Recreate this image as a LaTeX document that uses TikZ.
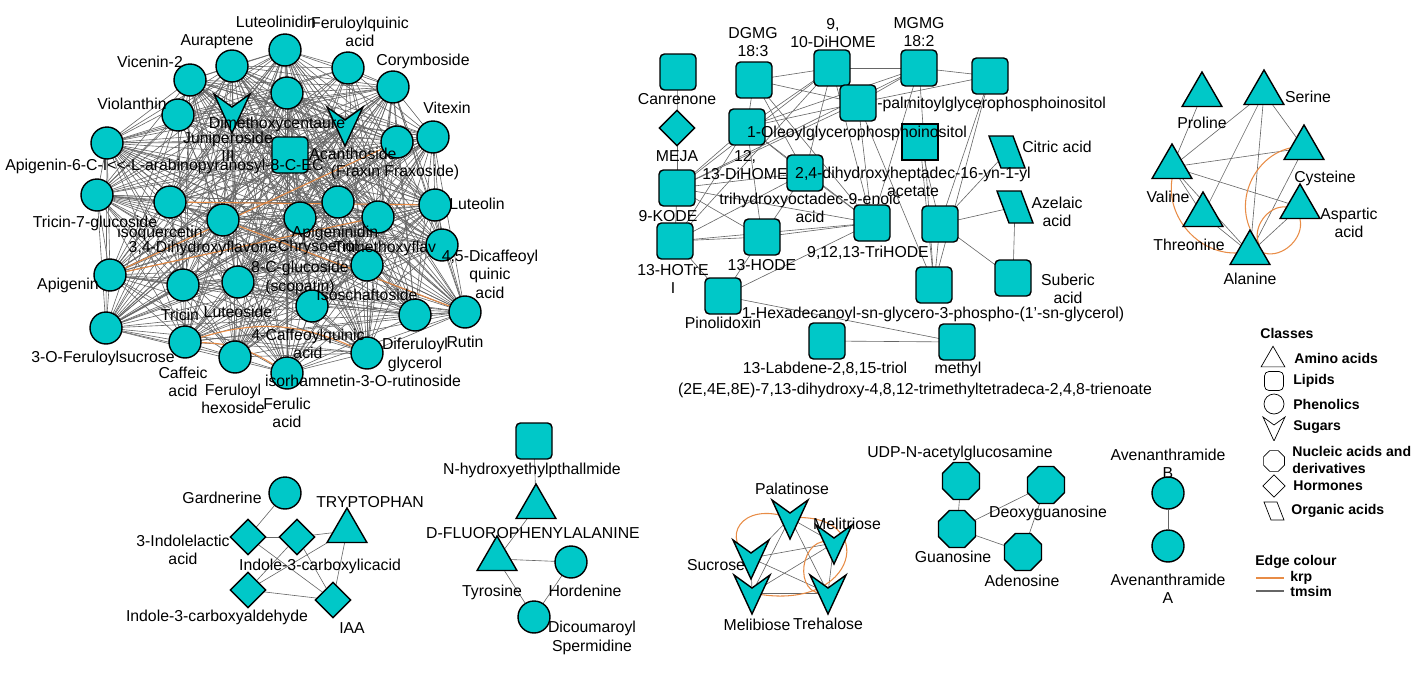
\documentclass[tikz,border=0pt]{standalone}
\usepackage{fontspec}
\setmainfont{Liberation Sans}
\usetikzlibrary{shapes.geometric,backgrounds}
\definecolor{tcol}{RGB}{0,200,200}
\definecolor{krp}{RGB}{232,140,70}
\tikzset{
  lbl/.style={font=\fontsize{9}{10.5}\selectfont,inner sep=0pt,align=center},
  phen/.style={circle,draw,thick,fill=tcol,minimum size=0.64cm,inner sep=0pt},
  lip/.style={rectangle,rounded corners=2.5pt,draw,thick,fill=tcol,minimum size=0.72cm,inner sep=0pt},
  amino/.style={regular polygon,regular polygon sides=3,draw,thick,fill=tcol,minimum size=0.92cm,inner sep=0pt},
  horm/.style={diamond,draw,thick,fill=tcol,minimum size=0.72cm,inner sep=0pt},
  nucl/.style={regular polygon,regular polygon sides=8,draw,thick,fill=tcol,minimum size=0.8cm,inner sep=0pt},
  orga/.style={rectangle,minimum width=0.76cm,minimum height=0.68cm,inner sep=0pt,path picture={
    \draw[thick,fill=tcol,shift={(path picture bounding box.center)}] (-18,-16) -- (6,-16) -- (18,16) -- (-6,16) -- cycle;}},
  sugar/.style={rectangle,minimum size=0.9cm,inner sep=0pt,path picture={
    \draw[thick,fill=tcol,shift={(path picture bounding box.center)}] (-18,-18) -- (0,-5) -- (18,-18) -- (0,21) -- cycle;}},
  tm/.style={gray!80!black,line width=0.35pt},
  kr/.style={krp,line width=0.6pt},
}
\begin{document}
\begin{tikzpicture}[x=0.02cm,y=-0.02cm]
\useasboundingbox (0,0) rectangle (1424,673);
% phenolics cluster
\node[phen] (ph1) at (232,66) {};
\node[phen] (ph2) at (285,50) {};
\node[phen] (ph3) at (348,68) {};
\node[phen] (ph4) at (393,87) {};
\node[phen] (ph5) at (190,80) {};
\node[phen] (ph6) at (178,115) {};
\node[phen] (ph7) at (287,93) {};
\node[phen] (ph8) at (433,137) {};
\node[phen] (ph9) at (397,142) {};
\node[phen] (ph10) at (107,143) {};
\node[phen] (ph11) at (97,195) {};
\node[phen] (ph12) at (170,202) {};
\node[phen] (ph13) at (223,220) {};
\node[phen] (ph14) at (300,218) {};
\node[phen] (ph15) at (338,202) {};
\node[phen] (ph16) at (378,217) {};
\node[phen] (ph17) at (435,205) {};
\node[phen] (ph18) at (442,245) {};
\node[phen] (ph19) at (367,265) {};
\node[phen] (ph20) at (110,275) {};
\node[phen] (ph21) at (183,285) {};
\node[phen] (ph22) at (238,282) {};
\node[phen] (ph23) at (312,306) {};
\node[phen] (ph24) at (415,315) {};
\node[phen] (ph25) at (465,312) {};
\node[phen] (ph26) at (106,328) {};
\node[phen] (ph27) at (185,342) {};
\node[phen] (ph28) at (235,357) {};
\node[phen] (ph29) at (287,373) {};
\node[phen] (ph30) at (367,353) {};
\node[sugar] (ph31) at (232,112) {};
\node[sugar] (ph32) at (345,125) {};
\node[lip] (ph33) at (290,155) {};
\begin{pgfonlayer}{background}
\foreach \i in {1,...,32}{
  \pgfmathtruncatemacro{\k}{\i+1}
  \foreach \j in {\k,...,33}{
    \pgfmathtruncatemacro{\r}{mod(\i*7+\j*3,6)}
    \ifnum\r>0 \draw[tm] (ph\i.center) -- (ph\j.center);\fi
  }}
\draw[kr] (ph20) -- (ph16);
\draw[kr] (ph20) -- (ph9);
\draw[kr] (ph12) -- (ph17);
\draw[kr] (ph13) -- (ph25);
\draw[kr] (ph27) to[bend left=20] (ph30);
\draw[kr] (ph27) to[bend left=15] (ph29);
\end{pgfonlayer}
\node[lbl] (tph1) at (217,42) {Auraptene};
\node[lbl] (tph2) at (276,22) {Luteolinidin};
\node[lbl] (tph3) at (360,32) {Feruloylquinic\\acid};
\node[lbl] (tph4) at (423,61) {Corymboside};
\node[lbl] (tph5) at (150,62) {Vicenin-2};
\node[lbl] (tph6) at (132,104) {Violanthin};
\node[lbl] (tph8) at (447,108) {Vitexin};
\node[lbl] (tph31a) at (277,124) {Dimethoxycentaure};
\node[lbl] (tph31b) at (228,147) {Juniperoside\\III};
\node[lbl] (tph32) at (353,154) {Acanthoside};
\node[lbl,anchor=west] (tph10) at (5,166) {Apigenin-6-C-I{<}{<}-L-arabinopyranosyl-8-C-EC};
\node[lbl] (tph9) at (395,172) {(Fraxin Fraxoside)};
\node[lbl] (tph11) at (95,223) {Tricin-7-glucoside};
\node[lbl] (tph12) at (160,233) {isoquercetin};
\node[lbl] (tph13) at (203,248) {3,4-Dihydroxyflavone};
\node[lbl] (tph14) at (318,247) {Chrysoeriol};
\node[lbl] (tph15) at (335,233) {Apigeninidin};
\node[lbl] (tph16) at (385,248) {Trimethoxyflav};
\node[lbl] (tph17) at (477,204) {Luteolin};
\node[lbl] (tph18) at (490,274) {4,5-Dicaffeoyl\\quinic\\acid};
\node[lbl] (tph19) at (300,278) {8-C-glucoside\\(scopatin)};
\node[lbl] (tph20) at (68,285) {Apigenin};
\node[lbl] (tph21) at (180,315) {Tricin};
\node[lbl] (tph22) at (238,312) {Luteoside};
\node[lbl] (tph23) at (367,295) {Isoschaftoside};
\node[lbl] (tph24) at (415,355) {Diferuloyl\\glycerol};
\node[lbl] (tph25) at (465,342) {Rutin};
\node[lbl] (tph26) at (103,358) {3-O-Feruloylsucrose};
\node[lbl] (tph27) at (183,382) {Caffeic\\acid};
\node[lbl] (tph28) at (233,399) {Feruloyl\\hexoside};
\node[lbl] (tph29) at (287,413) {Ferulic\\acid};
\node[lbl] (tph30) at (308,344) {4-Caffeoylquinic\\acid};
\node[lbl] (tph30b) at (363,381) {isorhamnetin-3-O-rutinoside};
% lipids cluster
\node[lip] (can) at (678,72) {};
\node[horm] (meja) at (677,128) {};
\node[lip] (dgmg) at (754,80) {};
\node[lip] (dihome) at (832,68) {};
\node[lip] (mgmg) at (919,68) {};
\node[lip] (lx1) at (990,76) {};
\node[lip] (palm) at (858,103) {};
\node[lip] (oleo) at (747,127) {};
\node[lip,rounded corners=0pt] (lsq) at (920,142) {};
\node[orga] (citric) at (1007,152) {};
\node[lip] (dihy) at (805,173) {};
\node[lip] (kode) at (677,188) {};
\node[orga] (azel) at (1015,207) {};
\node[lip] (trih) at (872,223) {};
\node[lip] (lx2) at (940,224) {};
\node[lip] (hotre) at (675,241) {};
\node[lip] (hode) at (762,237) {};
\node[lip] (lx3) at (934,285) {};
\node[lip] (suber) at (1013,278) {};
\node[lip] (pino) at (723,296) {};
\node[lip] (labd) at (827,341) {};
\node[lip] (methyl) at (957,342) {};
\begin{pgfonlayer}{background}
\foreach \a/\b in {can/meja,meja/kode,kode/hotre,dgmg/dihome,dihome/mgmg,dihome/palm,mgmg/palm,
  palm/lx1,mgmg/lx1,dgmg/palm,dgmg/oleo,dgmg/dihy,dgmg/trih,dihome/oleo,dihome/dihy,dihome/kode,
  dihome/hotre,dihome/trih,mgmg/oleo,mgmg/kode,mgmg/trih,mgmg/lx3,palm/oleo,palm/kode,palm/trih,
  palm/lx3,oleo/kode,oleo/hotre,oleo/hode,oleo/dihy,oleo/trih,dihy/hotre,dihy/hode,dihy/kode,
  dihy/trih,kode/hode,kode/trih,hotre/hode,hotre/trih,hode/trih,hode/pino,hotre/pino,trih/pino,
  lx1/lx2,lx1/lx3,lsq/lx2,lsq/lx3,lx2/lx3,lx2/azel,lx2/suber,azel/suber,pino/methyl,labd/methyl,
  citric/lx2}
  \draw[tm] (\a.center) -- (\b.center);
\end{pgfonlayer}
\node[lbl] (tcan) at (677,99) {Canrenone};
\node[lbl] (tmeja) at (677,156) {MEJA};
\node[lbl] (tdgmg) at (753,42) {DGMG\\18:3};
\node[lbl] (tdihome) at (833,33) {9,\\10-DiHOME};
\node[lbl] (tmgmg) at (919,32) {MGMG\\18:2};
\node[lbl,anchor=west] (tpalm) at (877,104) {-palmitoylglycerophosphoinositol};
\node[lbl] (toleo) at (857,133) {1-Oleoylglycerophosphoinositol};
\node[lbl] (tdihome2) at (745,165) {12,\\13-DiHOME};
\node[lbl] (tdihy) at (913,182) {2,4-dihydroxyheptadec-16-yn-1-yl\\acetate};
\node[lbl] (tcit) at (1057,147) {Citric acid};
\node[lbl] (tkode) at (668,216) {9-KODE};
\node[lbl] (ttrioic) at (810,208) {trihydroxyoctadec-9-enoic\\acid};
\node[lbl] (tazel) at (1057,212) {Azelaic\\acid};
\node[lbl] (ttrih) at (868,253) {9,12,13-TriHODE};
\node[lbl] (thotre) at (673,279) {13-HOTrE\\I};
\node[lbl] (thode) at (762,265) {13-HODE};
\node[lbl] (tsuber) at (1068,289) {Suberic\\acid};
\node[lbl] (tpino) at (723,323) {Pinolidoxin};
\node[lbl] (thexa) at (933,314) {1-Hexadecanoyl-sn-glycero-3-phospho-(1'-sn-glycerol)};
\node[lbl] (tlabd) at (825,369) {13-Labdene-2,8,15-triol};
\node[lbl] (tmethyl) at (958,369) {methyl};
\node[lbl] (ttetra) at (915,390) {(2E,4E,8E)-7,13-dihydroxy-4,8,12-trimethyltetradeca-2,4,8-trienoate};
% amino acids
\node[amino] (pro) at (1202,95) {};
\node[amino] (ser) at (1264,93) {};
\node[amino] (cys) at (1304,148) {};
\node[amino] (val) at (1172,167) {};
\node[amino] (asp) at (1300,207) {};
\node[amino] (thr) at (1203,215) {};
\node[amino] (ala) at (1250,253) {};
\begin{pgfonlayer}{background}
\foreach \a/\b in {pro/val,ser/val,ser/cys,ser/thr,ser/ala,val/cys,val/asp,val/thr,val/ala,thr/ala,cys/ala,asp/ala}
  \draw[tm] (\a.center) -- (\b.center);
\draw[kr] (val.south) to[bend right=50] (ala.west);
\draw[kr] (cys.west) to[bend right=50] (ala.north);
\draw[kr] (asp.west) to[bend right=60] (ala.north east);
\draw[kr] (asp.south) to[bend left=60] (ala.east);
\end{pgfonlayer}
\node[lbl] (tpro) at (1202,123) {Proline};
\node[lbl] (tser) at (1308,97) {Serine};
\node[lbl] (tcys) at (1325,178) {Cysteine};
\node[lbl] (tval) at (1168,197) {Valine};
\node[lbl] (tasp) at (1349,223) {Aspartic\\acid};
\node[lbl] (tthr) at (1189,245) {Threonine};
\node[lbl] (tala) at (1250,279) {Alanine};
% indoles
\node[phen] (gard) at (285,493) {};
\node[amino] (tryp) at (347,531) {};
\node[horm] (ila) at (248,537) {};
\node[horm] (ica) at (297,537) {};
\node[horm] (icald) at (248,590) {};
\node[horm] (iaa) at (333,600) {};
\begin{pgfonlayer}{background}
\foreach \a/\b in {gard/ila,ila/ica,ica/tryp,ila/iaa,ica/iaa,ica/icald,tryp/icald,tryp/iaa,icald/iaa}
  \draw[tm] (\a.center) -- (\b.center);
\end{pgfonlayer}
\node[lbl] (tgard) at (222,498) {Gardnerine};
\node[lbl] (ttryp) at (370,502) {TRYPTOPHAN};
\node[lbl] (tila) at (183,550) {3-Indolelactic\\acid};
\node[lbl] (tica) at (320,566) {Indole-3-carboxylicacid};
\node[lbl] (ticald) at (217,617) {Indole-3-carboxyaldehyde};
\node[lbl] (tiaa) at (352,628) {IAA};
% phenylalanine group
\node[lip] (nhyd) at (534,441) {};
\node[amino] (dfpa) at (536,507) {};
\node[amino] (tyr) at (497,559) {};
\node[phen] (hord) at (571,562) {};
\node[phen] (dicou) at (534,617) {};
\begin{pgfonlayer}{background}
\foreach \a/\b in {nhyd/dfpa,dfpa/tyr,tyr/hord,tyr/dicou,hord/dicou}
  \draw[tm] (\a.center) -- (\b.center);
\end{pgfonlayer}
\node[lbl] (tnhyd) at (532,470) {N-hydroxyethylpthallmide};
\node[lbl] (tdfpa) at (533,533) {D-FLUOROPHENYLALANINE};
\node[lbl] (ttyr) at (492,592) {Tyrosine};
\node[lbl] (thord) at (585,591) {Hordenine};
\node[lbl] (tdicou) at (592,638) {Dicoumaroyl\\Spermidine};
% sugars
\node[sugar] (pala) at (790,518) {};
\node[sugar] (meli) at (834,543) {};
\node[sugar] (sucr) at (751,558) {};
\node[sugar] (melb) at (752,593) {};
\node[sugar] (treh) at (828,593) {};
\begin{pgfonlayer}{background}
\foreach \a/\b in {pala/sucr,pala/melb,pala/treh,pala/meli,meli/sucr,meli/melb,meli/treh,sucr/treh,sucr/melb,melb/treh}
  \draw[tm] (\a.center) -- (\b.center);
\draw[kr] (pala.center) .. controls (740,500) and (720,540) .. (sucr.center);
\draw[kr] (pala.center) .. controls (880,510) and (860,615) .. (melb.center);
\draw[kr] (meli.center) .. controls (800,530) and (790,600) .. (treh.center);
\end{pgfonlayer}
\node[lbl] (tpala) at (792,489) {Palatinose};
\node[lbl] (tmeli) at (847,524) {Melitriose};
\node[lbl] (tsucr) at (716,565) {Sucrose};
\node[lbl] (tmelb) at (757,625) {Melibiose};
\node[lbl] (ttreh) at (828,624) {Trehalose};
% nucleosides
\node[nucl] (udp) at (961,481) {};
\node[nucl] (deox) at (1046,485) {};
\node[nucl] (guan) at (957,529) {};
\node[nucl] (aden) at (1023,552) {};
\begin{pgfonlayer}{background}
\foreach \a/\b in {udp/guan,guan/deox,guan/aden,aden/deox}
  \draw[tm] (\a.center) -- (\b.center);
\end{pgfonlayer}
\node[lbl] (tudp) at (960,453) {UDP-N-acetylglucosamine};
\node[lbl] (tdeox) at (1048,513) {Deoxyguanosine};
\node[lbl] (tguan) at (953,557) {Guanosine};
\node[lbl] (taden) at (1022,581) {Adenosine};
% avenanthramides
\node[phen] (aveb) at (1168,493) {};
\node[phen] (avea) at (1168,546) {};
\draw[tm] (aveb) -- (avea);
\node[lbl] (taveb) at (1168,464) {Avenanthramide\\B};
\node[lbl] (tavea) at (1168,589) {Avenanthramide\\A};
% legend
\tikzset{leg/.style={lbl,font=\fontsize{8}{9.5}\selectfont\bfseries,anchor=west}}
\node[leg] (lclass) at (1260,333) {Classes};
\node[amino,fill=white,thin,minimum size=0.55cm] (lg1) at (1273,360) {};
\node[lip,fill=white,thin,minimum size=0.38cm] (lg2) at (1274,381) {};
\node[phen,fill=white,thin,minimum size=0.4cm] (lg3) at (1274,404) {};
\node[rectangle,minimum size=0.5cm,path picture={\draw[shift={(path picture bounding box.center)}] (-11,-11) -- (0,-3) -- (11,-11) -- (0,13) -- cycle;}] (lg4) at (1274,428) {};
\node[nucl,fill=white,thin,minimum size=0.45cm] (lg5) at (1274,461) {};
\node[horm,fill=white,thin,minimum size=0.45cm] (lg6) at (1274,486) {};
\node[rectangle,minimum size=0.45cm,path picture={\draw[shift={(path picture bounding box.center)}] (-10,-9) -- (3,-9) -- (10,9) -- (-3,9) -- cycle;}] (lg7) at (1274,511) {};
\node[leg] (tlg1) at (1294,358) {Amino acids};
\node[leg] (tlg2) at (1293,381) {Lipids};
\node[leg] (tlg3) at (1293,404) {Phenolics};
\node[leg] (tlg4) at (1293,427) {Sugars};
\node[leg,align=left] (tlg5) at (1292,460) {Nucleic acids and\\derivatives};
\node[leg] (tlg6) at (1293,486) {Hormones};
\node[leg] (tlg7) at (1291,511) {Organic acids};
\node[leg] (ledge) at (1255,562) {Edge colour};
\coordinate (k1) at (1256,578); \coordinate (k2) at (1284,578);
\coordinate (g1) at (1256,591); \coordinate (g2) at (1284,591);
\draw[kr] (k1) -- (k2);
\draw[tm,thick] (g1) -- (g2);
\node[leg] (tkrp) at (1290,578) {krp};
\node[leg] (ttms) at (1290,591) {tmsim};
\end{tikzpicture}
\end{document}
